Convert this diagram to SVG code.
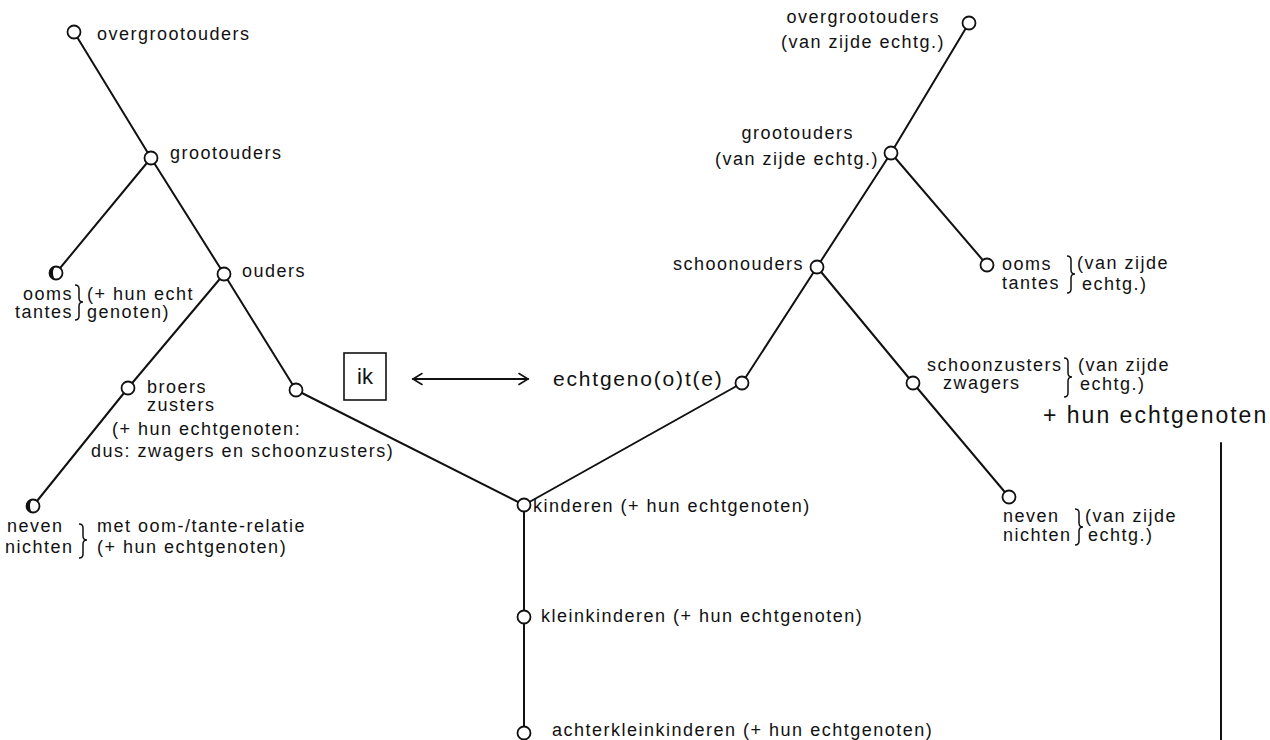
<svg xmlns="http://www.w3.org/2000/svg" width="1270" height="740" viewBox="0 0 1270 740">
<defs>
<style>
.t{font-family:"Liberation Sans",Arial,sans-serif;font-size:18px;letter-spacing:1.5px;fill:#111}
.e{text-anchor:end}
.big{font-size:21px;letter-spacing:1.8px}
.big2{font-size:23px;letter-spacing:2px}
.n{fill:#fff;stroke:#111;stroke-width:1.8}
.c{stroke:#111;stroke-width:2;fill:none;stroke-linecap:round}
.b{stroke:#111;stroke-width:1.5;fill:none}
</style>
<marker id="ah" viewBox="-11 -7 13 14" markerWidth="13" markerHeight="14" refX="0" refY="0" orient="auto-start-reverse" markerUnits="userSpaceOnUse">
<path d="M-9,-5.5 L0,0 L-9,5.5" fill="none" stroke="#111" stroke-width="1.6" stroke-linecap="round"/>
</marker>
<path id="cres" d="M0,-6.5 A6.5,6.5 0 0 0 0,6.5 A3,6.5 0 0 1 0,-6.5 Z" fill="#111"/>
</defs>
<rect width="1270" height="740" fill="#fff"/>

<g id="connectors">
<line class="c" x1="74" y1="32" x2="151" y2="158"/>
<line class="c" x1="151" y1="158" x2="56" y2="273"/>
<line class="c" x1="151" y1="158" x2="224" y2="274"/>
<line class="c" x1="224" y1="274" x2="128" y2="388"/>
<line class="c" x1="128" y1="388" x2="33" y2="506"/>
<line class="c" x1="224" y1="274" x2="296" y2="390"/>
<line class="c" x1="296" y1="390" x2="524" y2="505"/>
<line class="c" x1="524" y1="505" x2="742" y2="383"/>
<line class="c" x1="742" y1="383" x2="817" y2="267"/>
<line class="c" x1="817" y1="267" x2="891" y2="153"/>
<line class="c" x1="891" y1="153" x2="969" y2="23"/>
<line class="c" x1="891" y1="153" x2="987" y2="265"/>
<line class="c" x1="817" y1="267" x2="913" y2="383"/>
<line class="c" x1="913" y1="383" x2="1009" y2="497"/>
<line class="c" x1="524" y1="505" x2="524" y2="733"/>
<line class="c" x1="1221" y1="443" x2="1221" y2="740"/>
<line class="c" x1="413" y1="379" x2="528" y2="379" marker-start="url(#ah)" marker-end="url(#ah)" stroke-width="1.6"/>
</g>

<g id="n-overgrootouders-l">
<circle class="n" cx="74" cy="32" r="6.5"/>
<text class="t" x="97" y="40">overgrootouders</text>
</g>
<g id="n-grootouders-l">
<circle class="n" cx="151" cy="158" r="6.5"/>
<text class="t" x="170" y="159">grootouders</text>
</g>
<g id="n-ooms-l">
<circle class="n" cx="56" cy="273" r="6.5"/>
<use href="#cres" x="56" y="273"/>
<text class="t e" x="73" y="300">ooms</text>
<text class="t e" x="73" y="318">tantes</text>
<path class="b" d="M75,285 Q79,285 79,289 L79,298 Q79,302 83,302 Q79,302 79,306 L79,316 Q79,320 75,320"/>
<text class="t" x="87" y="300">(+ hun echt</text>
<text class="t" x="87" y="318">genoten)</text>
</g>
<g id="n-ouders">
<circle class="n" cx="224" cy="274" r="6.5"/>
<text class="t" x="242" y="277">ouders</text>
</g>
<g id="n-broers">
<circle class="n" cx="128" cy="388" r="6.5"/>
<text class="t" x="147" y="393">broers</text>
<text class="t" x="147" y="411">zusters</text>
<text class="t" x="112" y="435">(+ hun echtgenoten:</text>
<text class="t" x="91" y="457">dus: zwagers en schoonzusters)</text>
</g>
<g id="n-neven-l">
<circle class="n" cx="33" cy="506" r="6.5"/>
<use href="#cres" x="33" y="506"/>
<text class="t" x="7" y="532">neven</text>
<text class="t" x="5" y="553">nichten</text>
<path class="b" d="M79,524 Q83,524 83,528 L83,536 Q83,540 87,540 Q83,540 83,544 L83,554 Q83,558 79,558"/>
<text class="t" x="97" y="532">met oom-/tante-relatie</text>
<text class="t" x="97" y="553">(+ hun echtgenoten)</text>
</g>
<g id="n-ik">
<circle class="n" cx="296" cy="390" r="6.5"/>
<rect x="344" y="353" width="42" height="47" fill="#fff" stroke="#111" stroke-width="1.6"/>
<text class="t" x="365" y="384" text-anchor="middle" style="font-size:22px;letter-spacing:0">ik</text>
</g>
<g id="n-echtgenoot">
<circle class="n" cx="742" cy="383" r="6.5"/>
<text class="t big" x="553" y="386">echtgeno(o)t(e)</text>
</g>
<g id="n-kinderen">
<circle class="n" cx="524" cy="505" r="6.5"/>
<text class="t" x="533" y="512">kinderen (+ hun echtgenoten)</text>
</g>
<g id="n-kleinkinderen">
<circle class="n" cx="524" cy="617" r="6.5"/>
<text class="t" x="541" y="622">kleinkinderen (+ hun echtgenoten)</text>
</g>
<g id="n-achterkleinkinderen">
<circle class="n" cx="524" cy="733" r="6.5"/>
<text class="t" x="552" y="736">achterkleinkinderen (+ hun echtgenoten)</text>
</g>
<g id="n-schoonouders">
<circle class="n" cx="817" cy="267" r="6.5"/>
<text class="t e" x="804" y="270">schoonouders</text>
</g>
<g id="n-grootouders-r">
<circle class="n" cx="891" cy="153" r="6.5"/>
<text class="t e" x="854" y="139">grootouders</text>
<text class="t e" x="879" y="165">(van zijde echtg.)</text>
</g>
<g id="n-overgrootouders-r">
<circle class="n" cx="969" cy="23" r="6.5"/>
<text class="t e" x="940" y="23">overgrootouders</text>
<text class="t e" x="945" y="48">(van zijde echtg.)</text>
</g>
<g id="n-ooms-r">
<circle class="n" cx="987" cy="265" r="6.5"/>
<text class="t" x="1002" y="270">ooms</text>
<text class="t" x="1002" y="289">tantes</text>
<path class="b" d="M1067,256 Q1071,256 1071,260 L1071,270 Q1071,274 1075,274 Q1071,274 1071,278 L1071,289 Q1071,293 1067,293"/>
<text class="t" x="1077" y="269">(van zijde</text>
<text class="t" x="1082" y="290">echtg.)</text>
</g>
<g id="n-schoonzusters">
<circle class="n" cx="913" cy="383" r="6.5"/>
<text class="t" x="927" y="371">schoonzusters</text>
<text class="t" x="943" y="389">zwagers</text>
<path class="b" d="M1064,358 Q1068,358 1068,362 L1068,373 Q1068,377 1072,377 Q1068,377 1068,381 L1068,393 Q1068,397 1064,397"/>
<text class="t" x="1078" y="371">(van zijde</text>
<text class="t" x="1080" y="390">echtg.)</text>
<text class="t big2" x="1043" y="423">+ hun echtgenoten</text>
</g>
<g id="n-neven-r">
<circle class="n" cx="1009" cy="497" r="6.5"/>
<text class="t" x="1003" y="522">neven</text>
<text class="t" x="1003" y="541">nichten</text>
<path class="b" d="M1075,509 Q1079,509 1079,513 L1079,523 Q1079,527 1083,527 Q1079,527 1079,531 L1079,541 Q1079,545 1075,545"/>
<text class="t" x="1085" y="522">(van zijde</text>
<text class="t" x="1088" y="541">echtg.)</text>
</g>
</svg>
